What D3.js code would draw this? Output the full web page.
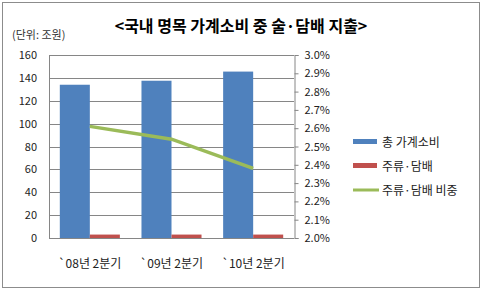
<!DOCTYPE html>
<html>
<head>
<meta charset="utf-8">
<script src="https://cdn.jsdelivr.net/npm/d3@7"></script>
<style>
  body { margin: 0; background: #fff; }
  svg { display: block; font-family: "Noto Sans CJK KR", "DejaVu Sans", sans-serif; }
</style>
</head>
<body>
<svg width="483" height="291"></svg>
<script>
//Chart data
const categories = ["`08년 2분기", "`09년 2분기", "`10년 2분기"];
const totalSpend = [134, 137.5, 145.5];
const alcoholTobacco = [3, 3, 3];
const sharePct = [2.61, 2.54, 2.38];
const leftTicks = [0, 20, 40, 60, 80, 100, 120, 140, 160];
const rightTicks = [2.0, 2.1, 2.2, 2.3, 2.4, 2.5, 2.6, 2.7, 2.8, 2.9, 3.0];
const seriesNames = ["총 가계소비", "주류·담배", "주류·담배 비중"];

const svg = d3.select("svg");

//Outer border
svg.append("rect")
    .attr("x", 2.5).attr("y", 2.5)
    .attr("width", 477).attr("height", 285)
    .attr("fill", "none")
    .attr("stroke", "#8c8c8c");

//Title
svg.append("text")
    .attr("x", 241)
    .attr("y", 32)
    .attr("text-anchor", "middle")
    .attr("font-size", "16px")
    .attr("font-weight", "bold")
    .text("<국내 명목 가계소비 중 술·담배 지출>");

svg.append("text")
    .attr("x", 12)
    .attr("y", 39)
    .attr("font-size", "11px")
    .attr("fill", "#333")
    .text("(단위: 조원)");

//Plot area
const plot = {left: 49, right: 294, top: 55, bottom: 238};

const x = d3.scaleBand()
    .domain(categories)
    .range([plot.left, plot.right]);

const xSub = d3.scaleBand()
    .domain([0, 1])
    .range([0, x.bandwidth()])
    .paddingOuter(0.36)
    .paddingInner(0);

const y = d3.scaleLinear()
    .domain([0, 160])
    .range([plot.bottom, plot.top]);

const y2 = d3.scaleLinear()
    .domain([2.0, 3.0])
    .range([plot.bottom, plot.top]);

//Gridlines
svg.append("g")
    .selectAll("line")
    .data(leftTicks)
    .enter()
    .append("line")
    .attr("x1", plot.left)
    .attr("x2", plot.right)
    .attr("y1", d => Math.round(y(d)) + 0.5)
    .attr("y2", d => Math.round(y(d)) + 0.5)
    .attr("stroke", "#868686");

//Left side of the plot frame
svg.append("line")
    .attr("x1", plot.left + 0.5).attr("x2", plot.left + 0.5)
    .attr("y1", plot.top).attr("y2", plot.bottom)
    .attr("stroke", "#868686");

//Left axis labels
svg.append("g")
    .selectAll("text")
    .data(leftTicks)
    .enter()
    .append("text")
    .attr("x", 37)
    .attr("y", d => y(d) + 4)
    .attr("text-anchor", "end")
    .attr("font-size", "11px")
    .attr("fill", "#222")
    .text(d => d);

//Right axis
const rightAxis = svg.append("g")
    .attr("transform", `translate(${plot.right + 0.5}, 0)`)
    .call(d3.axisRight(y2).tickValues(rightTicks).tickSize(4).tickFormat(d => d.toFixed(1) + "%"));
rightAxis.select(".domain").attr("stroke", "#868686");
rightAxis.selectAll(".tick line").attr("stroke", "#868686");
rightAxis.selectAll(".tick text")
    .attr("x", 10)
    .attr("font-size", "11px")
    .attr("font-family", "\"Noto Sans CJK KR\", sans-serif")
    .attr("fill", "#222");

//Bars
const colors = ["#4f81bd", "#c0504d", "#9bbb59"];
const barData = categories.map((c, i) => ({cat: c, values: [totalSpend[i], alcoholTobacco[i]]}));

const groups = svg.append("g")
    .selectAll("g")
    .data(barData)
    .enter()
    .append("g")
    .attr("transform", d => `translate(${x(d.cat)}, 0)`);

groups.selectAll("rect")
    .data(d => d.values.map((v, k) => ({k, v})))
    .enter()
    .append("rect")
    .attr("x", d => xSub(d.k))
    .attr("y", d => y(d.v))
    .attr("width", xSub.bandwidth())
    .attr("height", d => plot.bottom - y(d.v))
    .attr("fill", d => colors[d.k]);

//Share line
const line = d3.line()
    .x((d, i) => x(categories[i]) + x.bandwidth() / 2)
    .y(d => y2(d));

svg.append("path")
    .datum(sharePct)
    .attr("d", line)
    .attr("fill", "none")
    .attr("stroke", colors[2])
    .attr("stroke-width", 3.5);

//X labels
svg.append("g")
    .selectAll("text")
    .data(categories)
    .enter()
    .append("text")
    .attr("x", d => x(d) + x.bandwidth() / 2)
    .attr("y", 268)
    .attr("text-anchor", "middle")
    .attr("font-size", "12px")
    .attr("fill", "#222")
    .text(d => d);

//Legend
const legend = svg.append("g")
    .selectAll("g")
    .data(seriesNames)
    .enter()
    .append("g")
    .attr("transform", (d, i) => `translate(353, ${141 + i * 24})`);

legend.filter((d, i) => i < 2)
    .append("rect")
    .attr("x", 0)
    .attr("y", -2)
    .attr("width", 24)
    .attr("height", 5)
    .attr("fill", (d, i) => colors[i]);

legend.filter((d, i) => i === 2)
    .append("line")
    .attr("x1", 0).attr("x2", 26)
    .attr("y1", 1).attr("y2", 1)
    .attr("stroke", colors[2])
    .attr("stroke-width", 3);

legend.append("text")
    .attr("x", 29)
    .attr("y", 6)
    .attr("font-size", "12px")
    .attr("fill", "#222")
    .text(d => d);
</script>
</body>
</html>
